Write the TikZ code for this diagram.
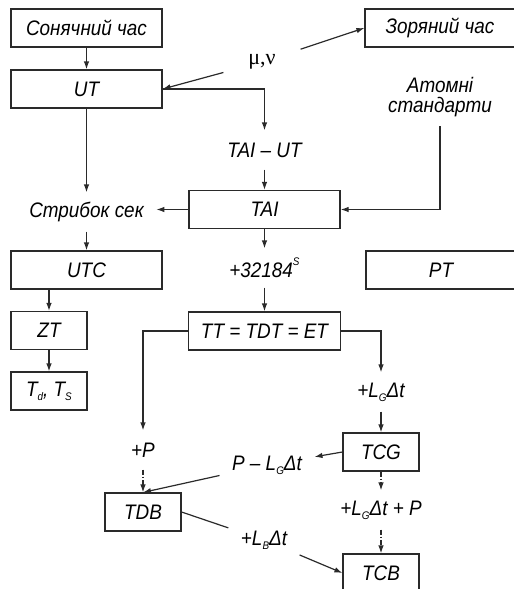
\documentclass[tikz,border=0pt]{standalone}
\usepackage{xcolor}
\usepackage{fontspec}
\setmainfont{Liberation Sans}[FakeStretch=0.9]
\newfontfamily\grkfont{Liberation Serif}
\usepackage{tikz}
\usetikzlibrary{positioning, arrows.meta}
\definecolor{linegray}{HTML}{2A2A2A}
\newcommand{\lo}[1]{\raisebox{-0.35ex}{\fontsize{11}{11}\selectfont #1}}
\newcommand{\hi}[1]{\raisebox{1.1ex}{\fontsize{11}{11}\selectfont #1}}

\begin{document}
\begin{tikzpicture}[x=1pt, y=-1pt, line width=1.2pt,
    font=\fontsize{21}{18}\selectfont\itshape,
    box/.style={draw=linegray, line width=1.2pt, minimum height=38pt, inner sep=0pt},
    tag/.style={minimum height=38pt, inner xsep=12pt, inner ysep=0pt},
    arr/.style={-{Latex[length=8pt,width=5.5pt]}, color=linegray},
    dashdot/.style={arr, dash pattern=on 5pt off 2pt on 1.5pt off 2pt}]
  \useasboundingbox (0,0) rectangle (514,589);

  \node[box, minimum width=151pt] (sun) at (86.5,28) {Сонячний час};
  \node[box, minimum width=150pt] (sid) at (440,28) {Зоряний час};
  \node[minimum width=76pt, minimum height=30pt,
        font=\fontsize{22}{22}\selectfont\grkfont] (mu) at (262,62) {μ,ν};
  \node[box, minimum width=151pt] (ut) at (86.5,89) {UT};
  \node[tag] (taiut) at (264.5,150) {TAI – UT};
  \node[align=center, inner ysep=9pt,
        font=\fontsize{21}{20}\selectfont\itshape] (atom) at (440,97) {Атомні\\стандарти};
  \node[tag] (leap) at (86.5,212) {Стрибок сек};
  \node[box, minimum width=151pt] (tai) at (264.5,209.5) {TAI};
  \node[box, minimum width=151pt] (utc) at (86.5,270) {UTC};
  \node[tag] (shift) at (264.5,268) {+32184\hi{S}};
  \node[box, minimum width=150pt] (pt) at (441,270) {PT};
  \node[box, minimum width=76pt] (zt) at (49,330.5) {ZT};
  \node[box, minimum width=152pt] (tt) at (264.5,331) {TT = TDT = ET};
  \node[box, minimum width=76pt] (tds) at (49,391) {T\lo{d}, T\lo{S}};
  \node[tag] (lg) at (381,392) {+L\lo{G}Δt};
  \node[box, minimum width=76pt] (tcg) at (381,452) {TCG};
  \node[tag] (pp) at (143,450) {+P};
  \node[tag] (plg) at (267,465) {P – L\lo{G}Δt};
  \node[box, minimum width=76pt] (tdb) at (143,512) {TDB};
  \node[tag] (lgp) at (381,510) {+L\lo{G}Δt + P};
  \node[tag] (lb) at (264,540) {+L\lo{B}Δt};
  \node[box, minimum width=76pt] (tcb) at (381,573) {TCB};

  \draw[arr] (sun) -- (ut);
  \draw[arr] (mu) -- (ut.east);
  \draw[arr] (mu) -- (sid.west);
  \draw[arr] (ut.east) -| (taiut.north);
  \draw[arr] (taiut) -- (tai);
  \draw[arr] (atom.south) |- (tai.east);
  \draw[arr] (ut) -- (leap);
  \draw[arr] (tai.west) -- (tai.west -| leap.east);
  \draw[arr] (leap) -- (utc);
  \draw[arr] (tai) -- (shift);
  \draw[arr] (shift) -- (tt);
  \draw[arr] (zt |- utc.south) -- (zt);
  \draw[arr] (zt) -- (tds);
  \draw[arr] (tt.east) -| (lg.north);
  \draw[arr] (tt.west) -| (pp.north);
  \draw[arr] (lg) -- (tcg);
  \draw[dashdot] (pp) -- (tdb);
  \draw[arr] (tcg.west) -- (plg);
  \draw[arr] (plg) -- (tdb.north);
  \draw[dashdot] (tcg) -- (lgp);
  \draw[dashdot] (lgp) -- (tcb);
  \draw[color=linegray] (tdb.east) -- (lb);
  \draw[arr] (lb) -- (tcb.west);
\end{tikzpicture}
\end{document}
